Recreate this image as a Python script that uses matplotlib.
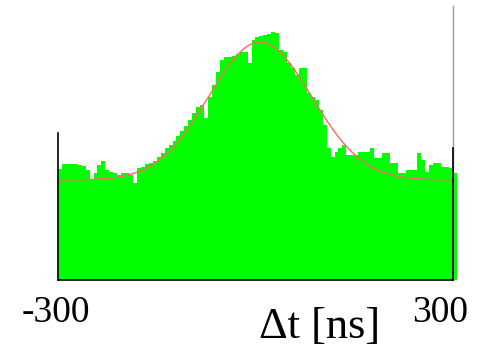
import numpy as np
import matplotlib
matplotlib.use("Agg")
import matplotlib.pyplot as plt

# Histogram of time differences (6 ns bins starting at -300 ns)
bin_width = 6.0
bin_start = -300.0
counts = [111, 116, 116, 116, 116, 115, 114, 110, 100, 107,
          115, 119, 110, 108, 107, 105, 107, 107, 105, 97,
          112, 113, 116, 117, 119, 123, 127, 132, 135, 139,
          144, 149, 154, 160, 167, 173, 175, 162, 183, 195,
          208, 220, 223, 223, 224, 226, 228, 228, 217, 240,
          243, 244, 245, 246, 248, 247, 230, 228, 217, 212,
          205, 212, 212, 187, 183, 180, 170, 155, 132, 123,
          128, 132, 135, 125, 125, 125, 128, 128, 128, 132,
          122, 122, 127, 127, 117, 117, 107, 107, 110, 110,
          110, 127, 120, 108, 115, 117, 117, 113, 113, 112,
          107]

# Gaussian + constant fit parameters
fit_base = 100.0
fit_amp = 138.0
fit_mean = 7.0
fit_sigma = 78.0

xlim = (-300, 300)
ylim = (0, 274)
tick_labels = ["-300", "300"]
axis_label = "\u0394t [ns]"

W, H = 489, 349
fig = plt.figure(figsize=(W / 100, H / 100), dpi=100)
fig.patch.set_facecolor("white")

ax_l, ax_r, ax_t, ax_b = 58, 453, 6, 280
ax = fig.add_axes([ax_l / W, 1 - ax_b / H, (ax_r - ax_l) / W, (ax_b - ax_t) / H])
ax.set_facecolor("white")

edges = bin_start + bin_width * np.arange(len(counts) + 1)
ax.stairs(counts, edges, fill=True, color="#00ff00", linewidth=0,
          clip_on=False, zorder=2)

t = np.linspace(-300, 300, 600)
fit = fit_base + fit_amp * np.exp(-0.5 * ((t - fit_mean) / fit_sigma) ** 2)
ax.plot(t, fit, color="#ff6666", lw=1.0, zorder=3)

ax.set_xlim(*xlim)
ax.set_ylim(*ylim)
ax.set_xticks([])
ax.set_yticks([])
for s in ["top", "right", "left"]:
    ax.spines[s].set_visible(False)
ax.spines["bottom"].set_color("black")
ax.spines["bottom"].set_linewidth(1.2)
ax.spines["bottom"].set_zorder(4)

# partial left axis line and right frame line
ax.axvline(xlim[0], ymin=0, ymax=(280 - 133) / 274, color="black", lw=1.2, zorder=4, clip_on=False)
ax.axvline(xlim[1], ymin=0, ymax=1, color="#999999", lw=1.0, zorder=4, clip_on=False)
ax.axvline(xlim[1], ymin=0, ymax=(280 - 148) / 274, color="black", lw=1.2, zorder=5, clip_on=False)

serif = ["Liberation Serif", "DejaVu Serif"]
fig.text(56 / W, 1 - 322 / H, tick_labels[0], ha="center", va="baseline",
         fontsize=27, family=serif)
fig.text(440 / W, 1 - 322 / H, tick_labels[1], ha="center", va="baseline",
         fontsize=27, family=serif)
fig.text(320 / W, 1 - 338 / H, axis_label, ha="center", va="baseline",
         fontsize=32, family=serif)

fig.savefig("out.png", dpi=100, facecolor="white")
